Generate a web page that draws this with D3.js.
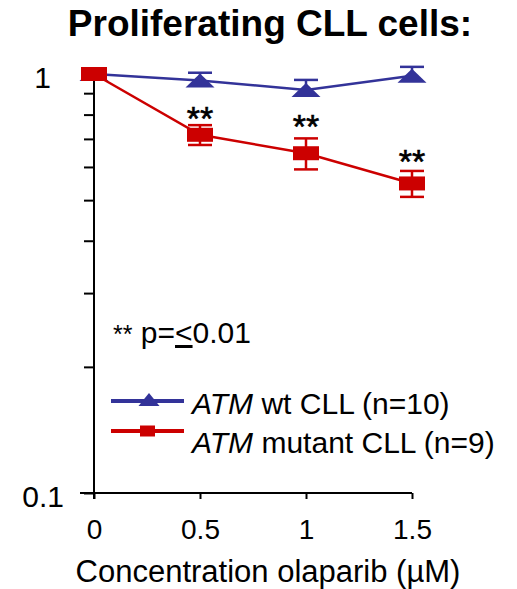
<!DOCTYPE html>
<html>
<head>
<meta charset="utf-8">
<script src="https://cdn.jsdelivr.net/npm/d3@7"></script>
<style>
  body { margin: 0; background: #fff; }
  svg text { font-family: "Liberation Sans", Arial, sans-serif; fill: #000; }
</style>
</head>
<body>
<div id="vis"></div>
<script>
// Data (fraction of untreated proliferating cells)
const doses = [0, 0.5, 1, 1.5];
const xTickLabels = ["0", "0.5", "1", "1.5"];
const wtMean = [1.0, 0.965, 0.916, 0.99];
const wtErr = [0, 0.042, 0.052, 0.05];
const mutMean = [1.0, 0.716, 0.647, 0.548];
const mutErr = [0, 0.039, 0.055, 0.039];
const starLevel = [null, 0.80, 0.764, 0.631];   // where the ** marks sit
const yTicks = [0.1, 0.2, 0.3, 0.4, 0.5, 0.6, 0.7, 0.8, 0.9, 1];
const yTickLabels = { 0.1: "0.1", 1: "1" };

const width = 517, height = 589;
const blue = "#333399";
const red = "#cc0000";

const svg = d3.select("#vis")
  .append("svg")
  .attr("width", width)
  .attr("height", height);

const x = d3.scaleLinear().domain([0, 1.5]).range([94, 412]);
const y = d3.scaleLog().domain([0.1, 1]).range([493, 74]);

// Title
svg.append("text")
  .attr("x", 270)
  .attr("y", 36)
  .attr("text-anchor", "middle")
  .style("font-size", "37px")
  .style("font-weight", "bold")
  .text("Proliferating CLL cells:");

// Y axis (log)
const yAxis = svg.append("g")
  .attr("transform", `translate(${x(0)},0)`)
  .call(d3.axisLeft(y)
    .tickValues(yTicks)
    .tickSize(10)
    .tickPadding(20)
    .tickFormat(d => yTickLabels[d] || ""));
yAxis.select(".domain").remove();
yAxis.selectAll(".tick line").attr("stroke", "#000").attr("stroke-width", 2);
yAxis.selectAll(".tick text")
  .style("font-size", "30px")
  .attr("dy", "0.46em")
  .attr("dx", d => d === 1 ? -13 : 0);

// X axis
const xAxis = svg.append("g")
  .attr("transform", `translate(0,${y(0.1)})`)
  .call(d3.axisBottom(x)
    .tickValues(doses)
    .tickSize(6)
    .tickPadding(20)
    .tickFormat((d, i) => xTickLabels[i]));
xAxis.select(".domain").remove();
xAxis.selectAll(".tick line").attr("stroke", "#000").attr("stroke-width", 2);
xAxis.selectAll(".tick text").style("font-size", "28px");

// axis lines
svg.append("line")
  .attr("x1", 80).attr("x2", x(1.5))
  .attr("y1", y(0.1)).attr("y2", y(0.1))
  .attr("stroke", "#000").attr("stroke-width", 2);
svg.append("line")
  .attr("x1", x(0)).attr("x2", x(0))
  .attr("y1", y(1)).attr("y2", y(0.1) + 6)
  .attr("stroke", "#000").attr("stroke-width", 2);

svg.append("text")
  .attr("x", 268)
  .attr("y", 582)
  .attr("text-anchor", "middle")
  .style("font-size", "31px")
  .text("Concentration olaparib (\u00B5M)");

const line = d3.line()
  .x((d, i) => x(doses[i]))
  .y(d => y(d));

const triangle = (w, h) => `M${-w / 2},${h / 2}L0,${-h / 2}L${w / 2},${h / 2}Z`;

function drawSeries(means, errs, color, lowerBars, marker) {
  const g = svg.append("g");
  g.append("path")
    .datum(means)
    .attr("d", line)
    .attr("fill", "none")
    .attr("stroke", color)
    .attr("stroke-width", 2.5);

  // error bars
  means.forEach((m, i) => {
    if (!errs[i]) return;
    const top = y(m + errs[i]);
    const bot = lowerBars ? y(m - errs[i]) : y(m);
    const cx = x(doses[i]);
    g.append("line").attr("x1", cx).attr("x2", cx).attr("y1", top).attr("y2", bot)
      .attr("stroke", color).attr("stroke-width", 2.5);
    g.append("line").attr("x1", cx - 12).attr("x2", cx + 12).attr("y1", top).attr("y2", top)
      .attr("stroke", color).attr("stroke-width", 2.5);
    if (lowerBars) {
      g.append("line").attr("x1", cx - 12).attr("x2", cx + 12).attr("y1", bot).attr("y2", bot)
        .attr("stroke", color).attr("stroke-width", 2.5);
    }
  });

  // markers
  if (marker === "triangle") {
    g.selectAll(".mk")
      .data(means)
      .enter()
      .append("path")
      .attr("d", triangle(29, 14))
      .attr("transform", (d, i) => `translate(${x(doses[i])},${y(d)})`)
      .attr("fill", color);
  } else {
    g.selectAll(".mk")
      .data(means)
      .enter()
      .append("rect")
      .attr("x", (d, i) => x(doses[i]) - 13)
      .attr("y", d => y(d) - 7)
      .attr("width", 26)
      .attr("height", 14)
      .attr("fill", color);
  }
}

drawSeries(wtMean, wtErr, blue, false, "triangle");
drawSeries(mutMean, mutErr, red, true, "square");

// significance marks
starLevel.forEach((s, i) => {
  if (s === null) return;
  svg.append("text")
    .attr("x", x(doses[i]))
    .attr("y", y(s) + 15)
    .attr("text-anchor", "middle")
    .style("font-size", "34px")
    .style("stroke", "#000")
    .style("stroke-width", 0.6)
    .text("**");
});

// p-value note
const note = svg.append("text")
  .attr("x", 113)
  .attr("y", 343)
  .style("font-size", "30px");
note.append("tspan").style("font-size", "25px").text("**");
note.append("tspan").text(" p=");
note.append("tspan").style("text-decoration", "underline").text("<");
note.append("tspan").text("0.01");

// Legend
const legend = svg.append("g");
legend.append("line")
  .attr("x1", 111).attr("x2", 184).attr("y1", 401).attr("y2", 401)
  .attr("stroke", blue).attr("stroke-width", 4);
legend.append("path")
  .attr("d", triangle(21, 13))
  .attr("transform", "translate(149,399.5)")
  .attr("fill", blue);
legend.append("line")
  .attr("x1", 111).attr("x2", 184).attr("y1", 431).attr("y2", 431)
  .attr("stroke", red).attr("stroke-width", 4);
legend.append("rect")
  .attr("x", 140).attr("y", 425.5).attr("width", 15).attr("height", 11)
  .attr("fill", red);

const l1 = legend.append("text").attr("x", 192).attr("y", 414).style("font-size", "30px");
l1.append("tspan").style("font-style", "italic").text("ATM");
l1.append("tspan").text(" wt CLL (n=10)");
const l2 = legend.append("text").attr("x", 192).attr("y", 453).style("font-size", "30px");
l2.append("tspan").style("font-style", "italic").text("ATM");
l2.append("tspan").text(" mutant CLL (n=9)");
</script>
</body>
</html>
